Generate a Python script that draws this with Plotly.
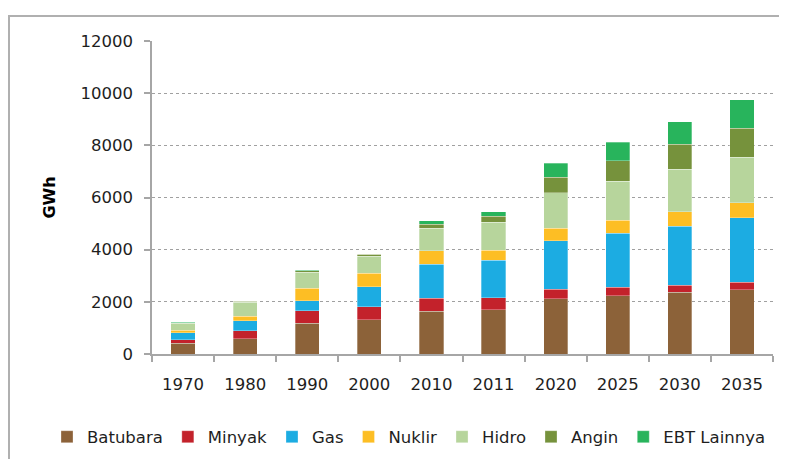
import plotly.graph_objects as go

years = ["1970", "1980", "1990", "2000", "2010", "2011", "2020", "2025", "2030", "2035"]
batubara = [410, 590, 1180, 1320, 1630, 1705, 2110, 2225, 2365, 2465]
minyak = [130, 310, 475, 500, 510, 460, 370, 330, 280, 280]
gas = [270, 370, 385, 755, 1295, 1425, 1855, 2070, 2260, 2480]
nuklir = [100, 180, 485, 515, 525, 395, 485, 510, 550, 575]
hidro = [270, 540, 605, 665, 870, 1065, 1355, 1495, 1625, 1740]
angin = [25, 25, 60, 65, 140, 230, 600, 780, 970, 1110]
ebt = [10, 10, 15, 10, 130, 170, 535, 705, 855, 1100]

series = [
    ("Batubara", batubara, "#8C6239"),
    ("Minyak", minyak, "#C3222B"),
    ("Gas", gas, "#1CACE2"),
    ("Nuklir", nuklir, "#FDBE24"),
    ("Hidro", hidro, "#B7D59C"),
    ("Angin", angin, "#76923C"),
    ("EBT Lainnya", ebt, "#28B45C"),
]

fig = go.Figure()
for name, vals, col in series:
    fig.add_trace(go.Bar(
        x=years, y=vals, name=name,
        marker=dict(color=col, line=dict(color="rgba(255,255,255,0.5)", width=0.6)),
    ))

# the page body has an 8px margin, so figure coords = page coords - 8
OFF = 8
W, H = 787 - OFF, 459 - OFF
L, T = 152 - OFF, 41 - OFF
R = W - (773 - OFF)
B = H - (354 - OFF)
pw, ph = W - L - R, H - T - B

def px_x(page_x):
    return (page_x - OFF - L) / pw

def px_y(page_y):
    return (H - B - (page_y - OFF)) / ph

fig.update_layout(
    width=W, height=H,
    barmode="stack", bargap=0.61,
    margin=dict(l=L, r=R, t=T, b=B, autoexpand=False),
    paper_bgcolor="white", plot_bgcolor="white",
    font=dict(family="DejaVu Sans, Verdana, sans-serif", size=16, color="#1E1E1E"),
    showlegend=True,
    legend=dict(orientation="h", x=px_x(47), xanchor="left",
                y=px_y(437), yanchor="middle",
                font=dict(size=16.5, color="#1E1E1E"), itemwidth=30, traceorder="normal",
                tracegroupgap=0),
    xaxis=dict(
        type="category", showline=True, linecolor="#A6A6A6", linewidth=1.5,
        ticks="outside", tickson="boundaries", ticklen=6, tickcolor="#A6A6A6", tickwidth=1.5,
        showgrid=False, ticklabelstandoff=14, automargin=False, tickangle=0,
        tickfont=dict(size=16.5, color="#1E1E1E"),
    ),
    yaxis=dict(
        range=[0, 12000], tickvals=[0, 2000, 4000, 6000, 8000, 10000, 12000],
        ticktext=["0", "2000", "4000", "6000", "8000", "10000", "12000"],
        showline=True, linecolor="#A6A6A6", linewidth=1.5,
        ticks="outside", ticklen=6, tickcolor="#A6A6A6", tickwidth=1.5,
        showgrid=True, gridcolor="#A0A0A0", griddash="dot", gridwidth=1,
        zeroline=False, ticklabelstandoff=8, automargin=False,
        tickfont=dict(size=16.5, color="#1E1E1E"),
        title=dict(text="<b>GWh</b>", font=dict(size=16, color="#000000"), standoff=21),
    ),
)

# outer chart border
fig.add_shape(
    type="rect", xref="paper", yref="paper",
    x0=px_x(9), x1=px_x(800),
    y0=px_y(480), y1=px_y(16),
    line=dict(color="#B0B0B0", width=2), fillcolor="rgba(0,0,0,0)", layer="below",
)

fig.write_html("out.html")
